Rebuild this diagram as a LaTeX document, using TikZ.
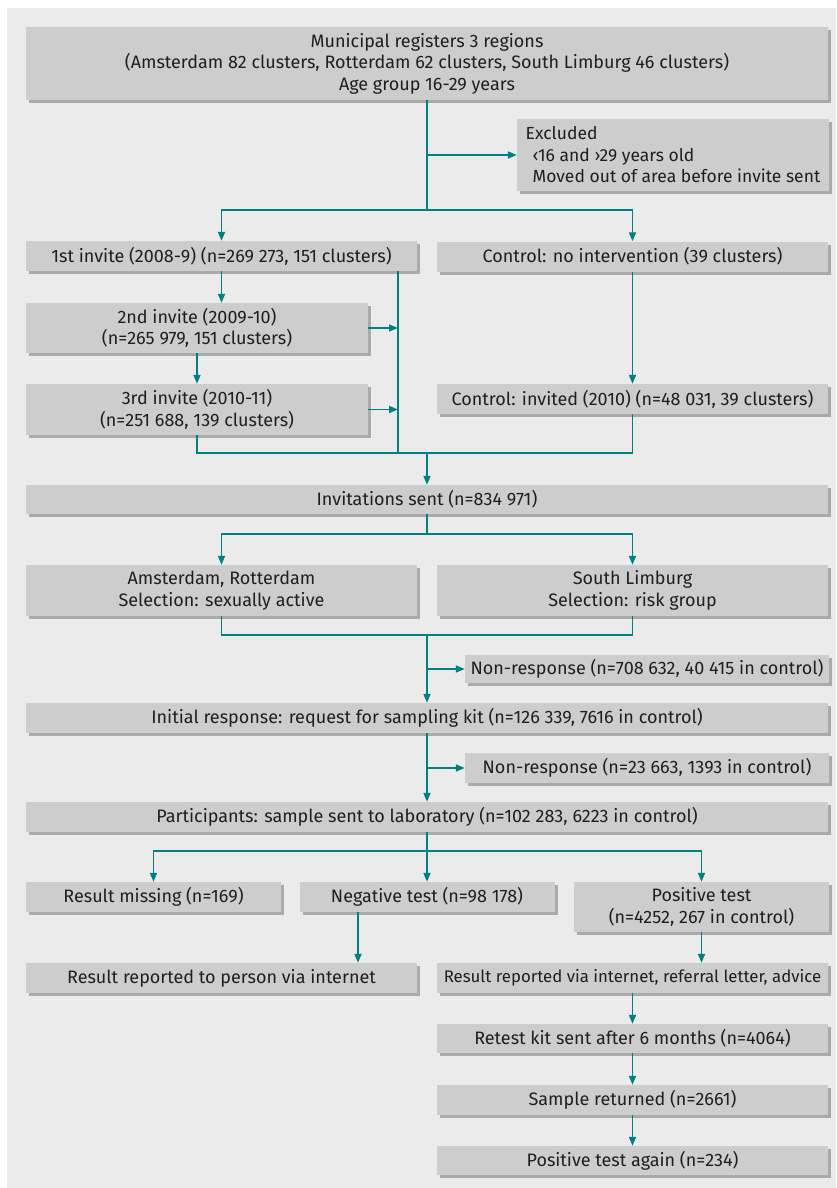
\documentclass[tikz,border=0pt]{standalone}
\usepackage{fontspec}
\setmainfont{Fira Sans}
\usetikzlibrary{arrows.meta,shadows}
\definecolor{bggray}{RGB}{235,235,235}
\definecolor{boxgray}{RGB}{205,205,205}
\definecolor{shadegray}{RGB}{170,170,170}
\definecolor{bmjteal}{RGB}{0,128,128}
\tikzset{
  box/.style={fill=boxgray, inner sep=0pt, align=center, text=black!88,
    font=\fontsize{18}{21.5}\selectfont,
    drop shadow={shadow xshift=3pt, shadow yshift=-3pt, opacity=1, fill=shadegray}},
  line/.style={draw=bmjteal, line width=1.8pt},
  arr/.style={line, -{Triangle[length=9pt,width=7pt]}}
}
\begin{document}
\begin{tikzpicture}[x=1pt,y=-1pt]
\useasboundingbox (0,0) rectangle (836,1188);
\fill[bggray] (7,8) rectangle (836,1188);
% boxes
\node[box, minimum width=802pt, minimum height=73pt] (top) at (427,63.5)
  {Municipal registers 3 regions\\(Amsterdam 82 clusters, Rotterdam 62 clusters, South Limburg 46 clusters)\\Age group 16-29 years};
\node[box, minimum width=312pt, minimum height=72pt, align=left, font=\fontsize{17.5}{21.5}\selectfont] (excl) at (673,155)
  {Excluded\\\hspace*{7pt}‹16 and ›29 years old\\\hspace*{7pt}Moved out of area before invite sent};
\node[box, minimum width=391pt, minimum height=30pt] (inv1) at (221.5,256) {1st invite (2008-9) (n=269 273, 151 clusters)};
\node[box, minimum width=391pt, minimum height=30pt] (ctrl0) at (632.5,256.5) {Control: no intervention (39 clusters)};
\node[box, minimum width=342pt, minimum height=50pt] (inv2) at (197,328) {2nd invite (2009-10)\\(n=265 979, 151 clusters)};
\node[box, minimum width=342pt, minimum height=51pt] (inv3) at (197,409.5) {3rd invite (2010-11)\\(n=251 688, 139 clusters)};
\node[box, minimum width=391pt, minimum height=30pt] (ctrl1) at (632.5,399) {Control: invited (2010) (n=48 031, 39 clusters)};
\node[box, minimum width=802pt, minimum height=29pt] (inv) at (427,499.5) {Invitations sent (n=834 971)};
\node[box, minimum width=391pt, minimum height=51pt] (ams) at (221.5,590.5) {Amsterdam, Rotterdam\\Selection: sexually active};
\node[box, minimum width=391pt, minimum height=51pt] (sl) at (632.5,590.5) {South Limburg\\Selection: risk group};
\node[box, minimum width=364pt, minimum height=28pt] (nr1) at (647,669) {Non-response (n=708 632, 40 415 in control)};
\node[box, minimum width=802pt, minimum height=30pt] (init) at (427,718) {Initial response: request for sampling kit (n=126 339, 7616 in control)};
\node[box, minimum width=364pt, minimum height=30pt] (nr2) at (647,768) {Non-response (n=23 663, 1393 in control)};
\node[box, minimum width=802pt, minimum height=30pt] (part) at (427,817) {Participants: sample sent to laboratory (n=102 283, 6223 in control)};
\node[box, minimum width=255pt, minimum height=30pt] (miss) at (153.5,897) {Result missing (n=169)};
\node[box, minimum width=255pt, minimum height=30pt] (neg) at (427,897) {Negative test (n=98 178)};
\node[box, minimum width=255pt, minimum height=50pt] (pos) at (701.5,907) {Positive test\\(n=4252, 267 in control)};
\node[box, minimum width=391pt, minimum height=30pt] (rep1) at (221.5,978) {Result reported to person via internet};
\node[box, minimum width=391pt, minimum height=30pt, font=\fontsize{16.8}{21.5}\selectfont] (rep2) at (632.5,978) {Result reported via internet, referral letter, advice};
\node[box, minimum width=391pt, minimum height=29pt] (retest) at (632.5,1038.5) {Retest kit sent after 6 months (n=4064)};
\node[box, minimum width=391pt, minimum height=30pt] (back) at (632.5,1100) {Sample returned (n=2661)};
\node[box, minimum width=391pt, minimum height=29pt] (again) at (632.5,1160.5) {Positive test again (n=234)};
% connectors
\coordinate (s1) at (427,210);
\coordinate (v) at (398,453);
\coordinate (s2) at (427,534);
\coordinate (s3) at (427,635);
\coordinate (s4) at (427,851);
\draw[line] (top.south) -- (s1);
\draw[arr] (top.south |- excl.west) -- (excl.west);
\draw[arr] (s1) -| (inv1.north);
\draw[arr] (s1) -| (ctrl0.north);
\draw[arr] (inv1.south) -- (inv1.south |- inv2.north);
\draw[arr] (inv2.south) -- (inv3.north);
\draw[line] (inv1.south -| v) -- (v);
\foreach \n in {inv2, inv3}
    \draw[arr] (\n.east) -- (\n.east -| v);
\draw[arr] (ctrl0.south) -- (ctrl1.north);
\draw[line] (inv3.south) |- (ctrl1.south |- v) -- (ctrl1.south);
\draw[arr] (inv.north |- v) -- (inv.north);
\draw[line] (inv.south) -- (s2);
\draw[arr] (s2) -| (ams.north);
\draw[arr] (s2) -| (sl.north);
\draw[line] (ams.south) |- (s3) -| (sl.south);
\draw[arr] (s3) -- (init.north);
\draw[arr] (init.north |- nr1.west) -- (nr1.west);
\draw[arr] (init.south) -- (part.north);
\draw[arr] (init.south |- nr2.west) -- (nr2.west);
\draw[line] (part.south) -- (s4);
\draw[arr] (s4) -| (miss.north);
\draw[arr] (s4) -- (neg.north);
\draw[arr] (s4) -| (pos.north);
\draw[arr] ([xshift=-69pt]neg.south) -- ([xshift=-69pt]neg.south |- rep1.north);
\draw[arr] (pos.south) -- (pos.south |- rep2.north);
\foreach \a/\b in {rep2/retest, retest/back, back/again}
    \draw[arr] (\a) -- (\b);
\end{tikzpicture}
\end{document}
